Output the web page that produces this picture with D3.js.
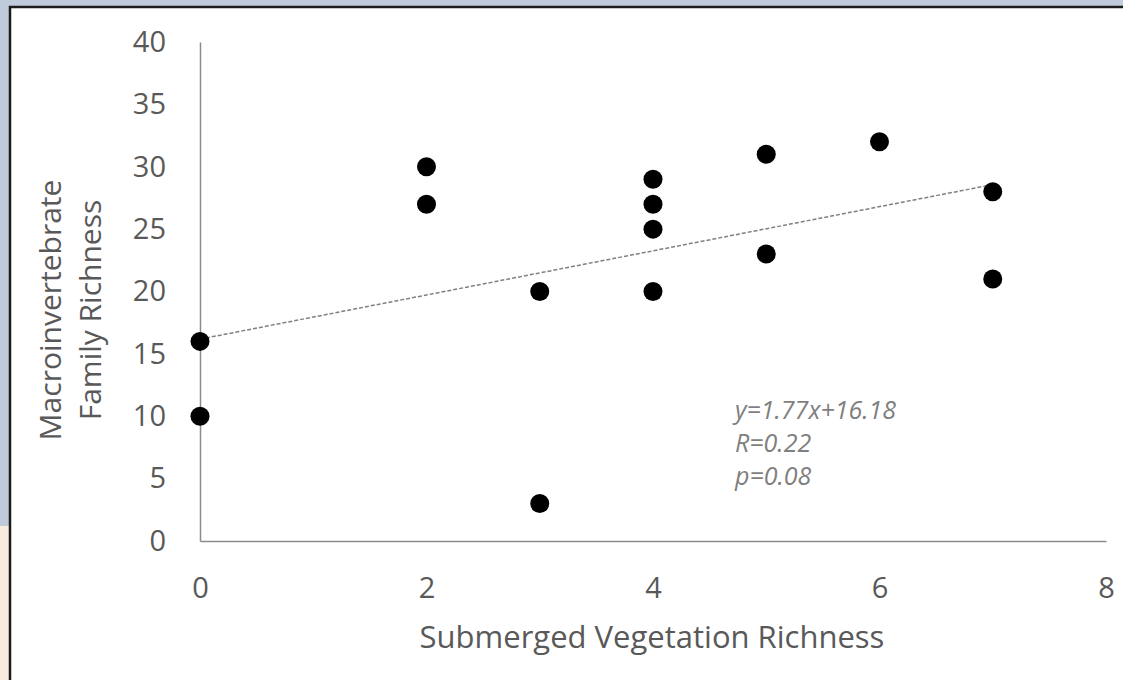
<!DOCTYPE html>
<html>
<head>
<meta charset="utf-8">
<script src="https://cdn.jsdelivr.net/npm/d3@7"></script>
<style>
  body { margin: 0; background: #bfcadb; overflow: hidden; }
  svg { display: block; font-family: "Open Sans", sans-serif; }
</style>
</head>
<body>
<svg id="chart" width="1123" height="680"></svg>
<script>
// values
var vegRichness = [0, 0, 2, 2, 3, 3, 4, 4, 4, 4, 5, 5, 6, 7, 7];
var familyRichness = [16, 10, 30, 27, 20, 3, 29, 27, 25, 20, 31, 23, 32, 28, 21];
var xTicks = [0, 2, 4, 6, 8];
var yTicks = [0, 5, 10, 15, 20, 25, 30, 35, 40];
var trendSlope = 1.77;
var trendIntercept = 16.18;
var statLines = ["y=1.77x+16.18", "R=0.22", "p=0.08"];

var w = 1123, h = 680;
var svg = d3.select("#chart");

// slide background bits
svg.append("rect")
	.attr("x", 0).attr("y", 526)
	.attr("width", 11).attr("height", h - 526)
	.attr("fill", "#f7ecdd");

svg.append("rect")
	.attr("x", 10).attr("y", 7)
	.attr("width", w).attr("height", h)
	.attr("fill", "#fff")
	.attr("stroke", "#1c1c1c")
	.attr("stroke-width", 2.5);

var xscale = d3.scaleLinear()
	.domain([0, 8])
	.range([200, 1106]);

var yscale = d3.scaleLinear()
	.domain([0, 40])
	.range([541, 42]);

var xaxis = d3.axisBottom()
	.scale(xscale)
	.tickValues(xTicks)
	.tickSize(0)
	.tickPadding(47);

var yaxis = d3.axisLeft()
	.scale(yscale)
	.tickValues(yTicks)
	.tickSize(0)
	.tickPadding(34);

var gx = svg.append("g")
	.attr("class", "x axis")
	.attr("transform", "translate(0," + yscale(0) + ")")
	.call(xaxis);

var gy = svg.append("g")
	.attr("class", "y axis")
	.attr("transform", "translate(" + xscale(0) + ",0)")
	.call(yaxis);

[gx, gy].forEach(function(g){
	g.select(".domain").attr("stroke", "#8c8c8c").attr("stroke-width", 1.5);
	g.selectAll("text")
		.attr("fill", "#595959")
		.style("font-size", "29px")
		.style("font-family", "'Open Sans', sans-serif");
});
gx.selectAll("text").attr("dy", "0.35em");

// trend line
var line = d3.line()
	.x(function(d){ return xscale(d); })
	.y(function(d){ return yscale(trendIntercept + trendSlope * d); });

svg.append("path")
	.attr("d", line([d3.min(vegRichness), d3.max(vegRichness)]))
	.attr("stroke", "#808080")
	.attr("stroke-width", 1.5)
	.attr("stroke-dasharray", "4,2")
	.attr("fill", "none");

svg.selectAll("circle.pt")
	.data(vegRichness)
	.enter().append("circle")
	.attr("class", "pt")
	.attr("cx", function(d){ return xscale(d); })
	.attr("cy", function(d, i){ return yscale(familyRichness[i]); })
	.attr("r", 9.5)
	.attr("fill", "#000");

// regression stats
svg.append("g")
	.selectAll("text")
	.data(statLines)
	.enter().append("text")
	.attr("x", 735)
	.attr("y", function(d, i){ return 419 + i * 33; })
	.attr("fill", "#7f7f7f")
	.style("font-size", "25px")
	.style("font-style", "italic")
	.text(function(d){ return d; });

// axis titles
svg.append("text")
	.attr("x", 652)
	.attr("y", 648)
	.attr("text-anchor", "middle")
	.attr("fill", "#595959")
	.style("font-size", "31px")
	.text("Submerged Vegetation Richness");

var ytitle = svg.append("text")
	.attr("transform", "translate(0,310) rotate(-90)")
	.attr("text-anchor", "middle")
	.attr("fill", "#595959")
	.style("font-size", "30px");

ytitle.append("tspan").attr("x", 0).attr("y", 61).text("Macroinvertebrate");
ytitle.append("tspan").attr("x", 0).attr("y", 101).text("Family Richness");
</script>
</body>
</html>
